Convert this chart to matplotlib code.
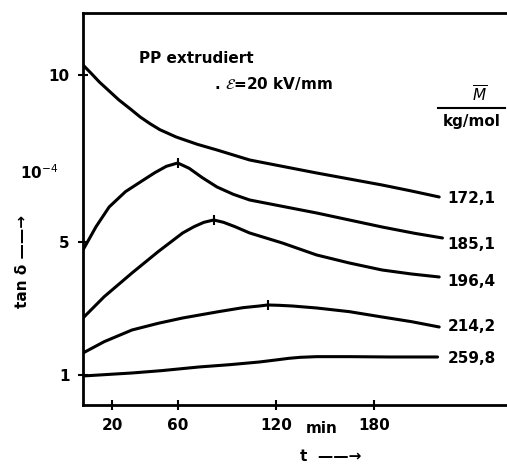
import matplotlib.pyplot as plt

# time in min, tan delta in 1e-4
t_172 = [2, 7, 12, 18, 24, 31, 37, 43, 49, 59, 72, 84, 104, 125, 145, 165, 185, 203, 220]
v_172 = [10.3, 10.05, 9.79, 9.52, 9.25, 8.98, 8.74, 8.54, 8.36, 8.14, 7.92, 7.75, 7.45, 7.25, 7.06, 6.88, 6.70, 6.52, 6.34]

t_185 = [2, 10, 18, 28, 39, 46, 53, 60, 67, 75, 84, 94, 104, 125, 145, 165, 185, 205, 222]
v_185 = [4.75, 5.45, 6.04, 6.5, 6.85, 7.07, 7.26, 7.36, 7.2, 6.92, 6.64, 6.42, 6.25, 6.05, 5.86, 5.65, 5.44, 5.25, 5.11]

t_196 = [2, 15, 32, 48, 63, 70, 76, 82, 88, 95, 104, 124, 145, 165, 185, 203, 220]
v_196 = [2.71, 3.35, 4.06, 4.7, 5.26, 5.45, 5.58, 5.65, 5.58, 5.45, 5.26, 4.96, 4.6, 4.36, 4.15, 4.03, 3.94]

t_214 = [2, 15, 32, 48, 63, 85, 100, 110, 115, 122, 130, 145, 165, 185, 203, 220]
v_214 = [1.66, 2.0, 2.35, 2.55, 2.71, 2.9, 3.02, 3.07, 3.1, 3.09, 3.07, 3.01, 2.9, 2.74, 2.6, 2.44]

t_259 = [2, 32, 50, 73, 92, 110, 120, 128, 135, 145, 165, 190, 219]
v_259 = [0.97, 1.06, 1.13, 1.24, 1.31, 1.39, 1.45, 1.5, 1.53, 1.55, 1.55, 1.54, 1.54]

peak_t = [60, 82, 115]
peak_v = [7.36, 5.65, 3.1]

labels = ['172,1', '185,1', '196,4', '214,2', '259,8']
label_v = [6.3, 4.9, 3.8, 2.45, 1.5]

x_ticks = [20, 60, 120, 180]
y_ticks = [1, 5, 10]

fig = plt.figure(figsize=(5.07, 4.67), dpi=100)
ax = fig.add_axes([0.1637, 0.1328, 0.8363, 0.8394])

series = [(t_172, v_172), (t_185, v_185), (t_196, v_196), (t_214, v_214), (t_259, v_259)]
for t, v in series:
    ax.plot(t, v, color='black', lw=2.2, solid_capstyle='round', solid_joinstyle='round')
ax.plot(peak_t, peak_v, ls='none', marker='|', ms=7, mew=1.5, color='black')

fnt = dict(fontweight='bold', fontsize=11, family='DejaVu Sans')
for lab, v in zip(labels, label_v):
    ax.text(225, v, lab, va='center', ha='left', **fnt)

ax.set_xlim(2, 261.5)
ax.set_ylim(0.1, 11.86)
ax.spines['right'].set_visible(False)
for s in ['left', 'bottom', 'top']:
    ax.spines[s].set_linewidth(2)

ax.set_xticks(x_ticks)
ax.set_xticklabels([str(x) for x in x_ticks], **fnt)
ax.set_yticks(y_ticks)
ax.set_yticklabels([str(y) for y in y_ticks], **fnt)
ax.tick_params(direction='inout', length=7, width=1.5, pad=6)

ax.text(148, -0.6, 'min', ha='center', va='center', **fnt)
ax.text(135, -1.45, 't  \u2014\u2014\u2192', ha='left', va='center', **fnt)

ax.text(36, 10.5, 'PP extrudiert', ha='left', va='center', **fnt)
ax.text(82, 9.75, r'. $\mathcal{E}$=20 kV/mm', ha='left', va='center', **fnt)

ax.text(245, 9.4, r'$\overline{M}$', ha='center', va='center', fontsize=11)
ax.plot([219, 260], [9.0, 9.0], color='black', lw=1.5, clip_on=False)
ax.text(240, 8.6, 'kg/mol', ha='center', va='center', **fnt)

fig.text(0.04, 0.63, '10$^{-4}$', ha='left', va='center', fontsize=11, fontweight='bold')
fig.text(0.045, 0.44, 'tan \u03b4 \u2014\u2014\u2192', rotation=90, ha='center', va='center', **fnt)

fig.savefig('out.png', dpi=100)
